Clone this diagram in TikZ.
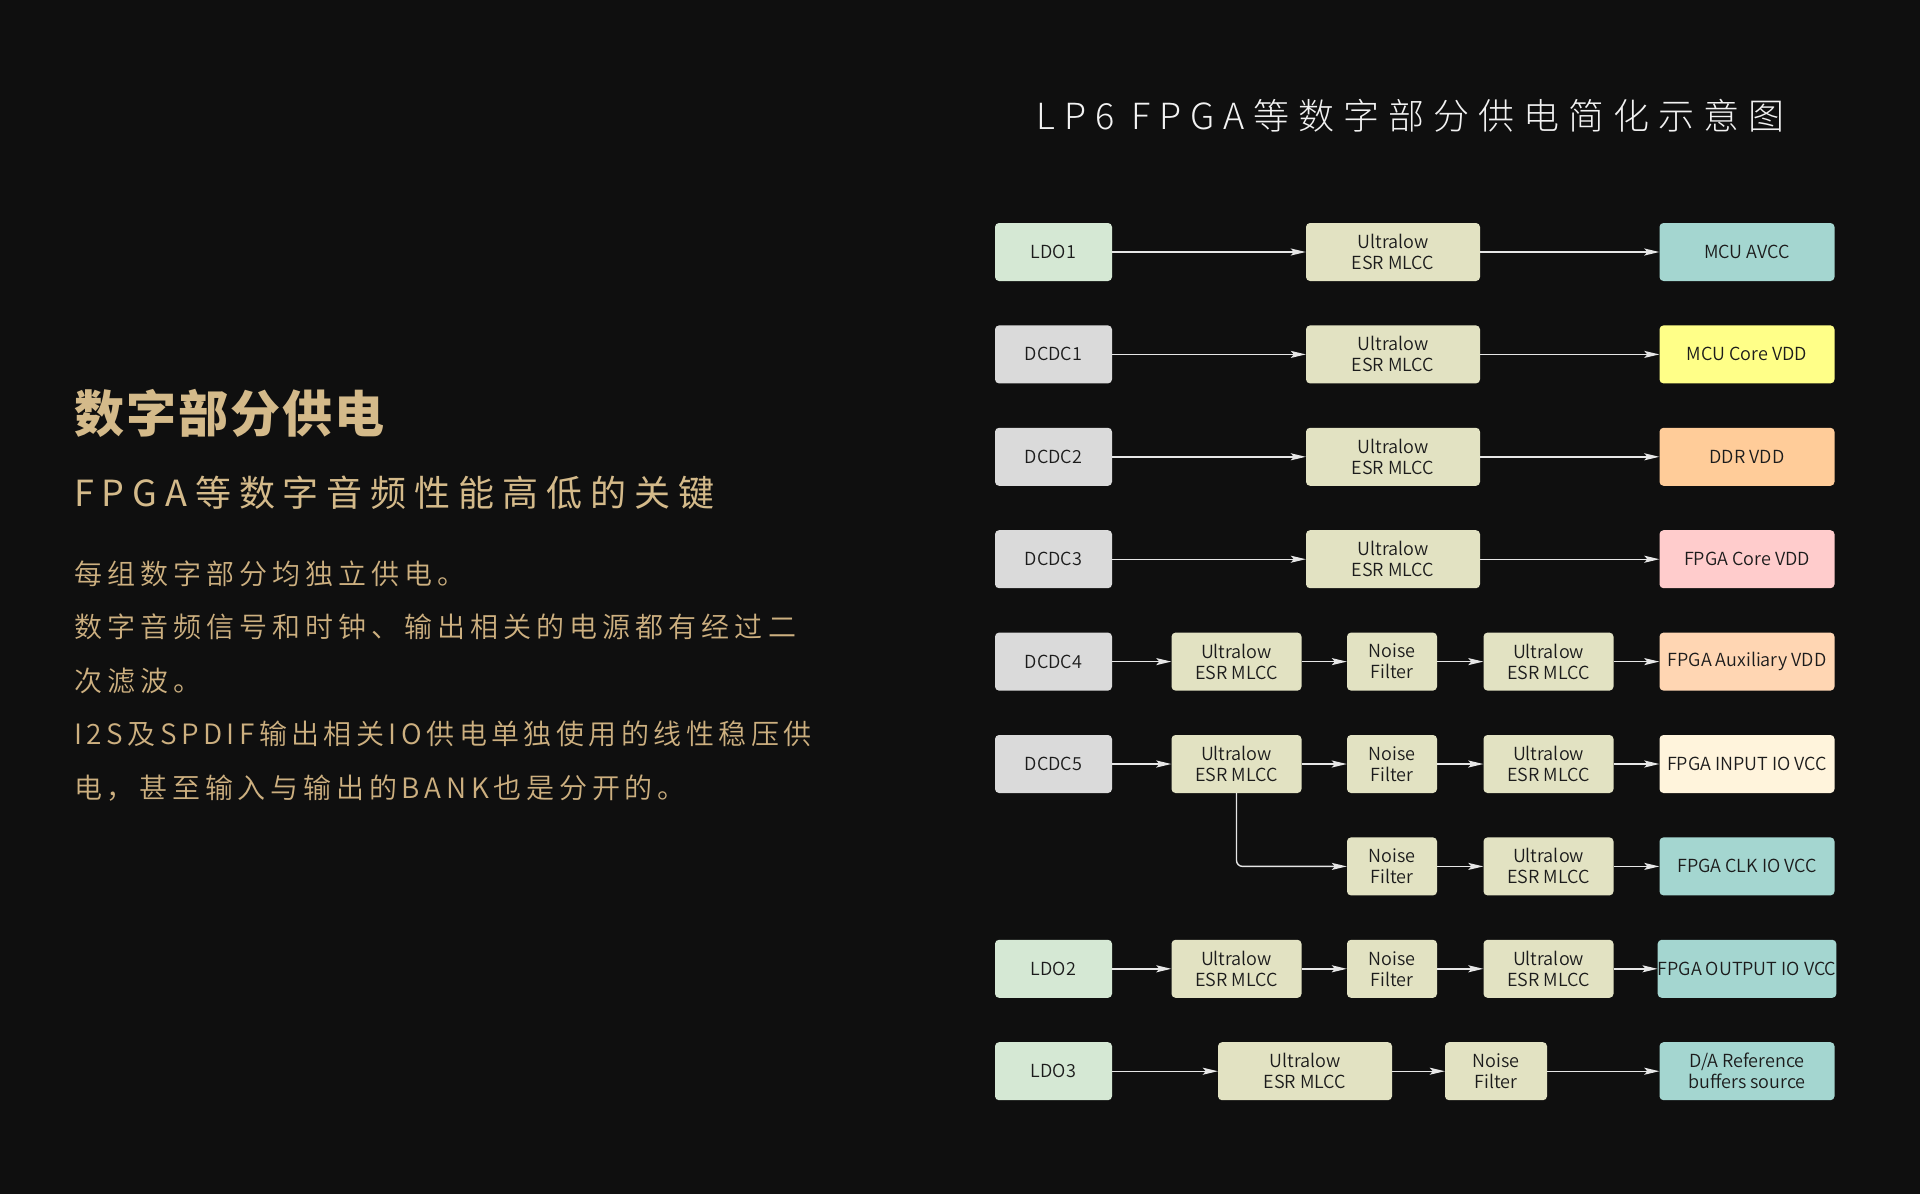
\documentclass[tikz,border=0pt]{standalone}
\usepackage{fontspec}
\setmainfont{Noto Sans CJK SC}
\newfontfamily\boxfont{Noto Sans CJK SC DemiLight}
\newfontfamily\titlefont[LetterSpace=25]{Noto Sans CJK SC Light}
\newfontfamily\subfont[LetterSpace=22]{Noto Sans CJK SC}
\newfontfamily\bodyfont[LetterSpace=18]{Noto Sans CJK SC DemiLight}
\newfontfamily\bodyfontb[LetterSpace=16]{Noto Sans CJK SC DemiLight}
\newfontfamily\bodyfontc[LetterSpace=17]{Noto Sans CJK SC DemiLight}
\newfontfamily\headfont[LetterSpace=4]{Noto Sans CJK SC}
\usetikzlibrary{arrows.meta}
\definecolor{bg}{HTML}{0F0F0F}
\definecolor{gold}{HTML}{D4BA8A}
\definecolor{bodygold}{HTML}{CDB080}
\definecolor{titlec}{HTML}{F2F2F2}
\definecolor{arrc}{HTML}{E6E6E6}
\definecolor{txt}{HTML}{1C1C1C}
\definecolor{ldo}{HTML}{D5E8D4}
\definecolor{dcdc}{HTML}{DADADA}
\definecolor{mid}{HTML}{E2E2C2}
\definecolor{teal}{HTML}{A4D6D0}
\definecolor{yel}{HTML}{FFFF88}
\definecolor{ora}{HTML}{FFCC99}
\definecolor{pnk}{HTML}{FFCCCC}
\definecolor{pch}{HTML}{FFD6B3}
\definecolor{crm}{HTML}{FFF4DC}
\begin{document}
\begin{tikzpicture}[x=1pt,y=-1pt,
  box/.style={rounded corners=4pt, minimum height=58pt, inner sep=0pt,
    align=center, text=txt, font=\boxfont\fontsize{18}{21}\selectfont},
  src/.style={box, minimum width=117pt},
  midw/.style={box, fill=mid, minimum width=174pt},
  ulc/.style={box, fill=mid, minimum width=130pt},
  nf/.style={box, fill=mid, minimum width=90pt},
  dst/.style={box, minimum width=175pt},
  arr/.style={draw=arrc, line width=1.4pt, -{Stealth[length=15pt,width=7pt,inset=3pt]}},
  lbl/.style={anchor=base west, inner sep=0pt}]
\fill[bg] (0,0) rectangle (1920,1194);
\useasboundingbox (0,0) rectangle (1920,1194);

% left text
\node[lbl, text=gold, font=\headfont\bfseries\fontsize{50}{50}\selectfont] (h1) at (74,432) {数字部分供电};
\node[lbl, text=gold, font=\subfont\fontsize{36}{36}\selectfont] (h2) at (74,506) {FPGA等数字音频性能高低的关键};
\node[lbl, text=bodygold, font=\bodyfont\fontsize{28}{28}\selectfont] (b1) at (74,584) {每组数字部分均独立供电。};
\node[lbl, text=bodygold, font=\bodyfont\fontsize{28}{28}\selectfont] (b2) at (74,637.5) {数字音频信号和时钟、输出相关的电源都有经过二};
\node[lbl, text=bodygold, font=\bodyfont\fontsize{28}{28}\selectfont] (b3) at (74,691) {次滤波。};
\node[lbl, text=bodygold, font=\bodyfontb\fontsize{28}{28}\selectfont] (b4) at (74,744.5) {I2S及SPDIF输出相关IO供电单独使用的线性稳压供};
\node[lbl, text=bodygold, font=\bodyfontc\fontsize{28}{28}\selectfont] (b5) at (74,798) {电，甚至输入与输出的BANK也是分开的。};

% title
\node[lbl, text=titlec, font=\titlefont\fontsize{36}{36}\selectfont] (tt) at (1036,129) {LP6 FPGA等数字部分供电简化示意图};

% row 1-4
\node[src, fill=ldo]  (a1) at (1053.5,252) {LDO1};
\node[midw]           (m1) at (1393,252) {Ultralow\\ESR MLCC};
\node[dst, fill=teal] (r1) at (1747,252) {MCU AVCC};

\node[src, fill=dcdc] (a2) at (1053.5,354.4) {DCDC1};
\node[midw]           (m2) at (1393,354.4) {Ultralow\\ESR MLCC};
\node[dst, fill=yel]  (r2) at (1747,354.4) {MCU Core VDD};

\node[src, fill=dcdc] (a3) at (1053.5,456.8) {DCDC2};
\node[midw]           (m3) at (1393,456.8) {Ultralow\\ESR MLCC};
\node[dst, fill=ora]  (r3) at (1747,456.8) {DDR VDD};

\node[src, fill=dcdc] (a4) at (1053.5,559.2) {DCDC3};
\node[midw]           (m4) at (1393,559.2) {Ultralow\\ESR MLCC};
\node[dst, fill=pnk]  (r4) at (1747,559.2) {FPGA Core VDD};

\foreach \i in {1,2,3,4} {
  \draw[arr] (a\i.east) -- (m\i.west);
  \draw[arr] (m\i.east) -- (r\i.west);
}

% row 5
\node[src, fill=dcdc] (a5) at (1053.5,661.6) {DCDC4};
\node[ulc]            (u5) at (1236.5,661.6) {Ultralow\\ESR MLCC};
\node[nf]             (n5) at (1392,661.6) {Noise\\Filter};
\node[ulc]            (v5) at (1548.5,661.6) {Ultralow\\ESR MLCC};
\node[dst, fill=pch]  (r5) at (1747,661.6) {FPGA Auxiliary VDD};

% row 6
\node[src, fill=dcdc] (a6) at (1053.5,764) {DCDC5};
\node[ulc]            (u6) at (1236.5,764) {Ultralow\\ESR MLCC};
\node[nf]             (n6) at (1392,764) {Noise\\Filter};
\node[ulc]            (v6) at (1548.5,764) {Ultralow\\ESR MLCC};
\node[dst, fill=crm]  (r6) at (1747,764) {FPGA INPUT IO VCC};

% row 7
\node[nf]             (n7) at (1392,866.4) {Noise\\Filter};
\node[ulc]            (v7) at (1548.5,866.4) {Ultralow\\ESR MLCC};
\node[dst, fill=teal] (r7) at (1747,866.4) {FPGA CLK IO VCC};

% row 8
\node[src, fill=ldo]  (a8) at (1053.5,968.8) {LDO2};
\node[ulc]            (u8) at (1236.5,968.8) {Ultralow\\ESR MLCC};
\node[nf]             (n8) at (1392,968.8) {Noise\\Filter};
\node[ulc]            (v8) at (1548.5,968.8) {Ultralow\\ESR MLCC};
\node[dst, fill=teal] (r8) at (1747,968.8) {FPGA OUTPUT IO VCC};

\foreach \i in {5,6,8} {
  \draw[arr] (a\i.east) -- (u\i.west);
  \draw[arr] (u\i.east) -- (n\i.west);
  \draw[arr] (n\i.east) -- (v\i.west);
  \draw[arr] (v\i.east) -- (r\i.west);
}
\draw[arr, rounded corners=6pt] (u6.south) |- (n7.west);
\draw[arr] (n7.east) -- (v7.west);
\draw[arr] (v7.east) -- (r7.west);

% row 9
\node[src, fill=ldo]  (a9) at (1053.5,1071.2) {LDO3};
\node[midw]           (u9) at (1305,1071.2) {Ultralow\\ESR MLCC};
\node[box, fill=mid, minimum width=102pt] (n9) at (1496,1071.2) {Noise\\Filter};
\node[dst, fill=teal] (r9) at (1747,1071.2) {D/A Reference\\buffers source};
\draw[arr] (a9.east) -- (u9.west);
\draw[arr] (u9.east) -- (n9.west);
\draw[arr] (n9.east) -- (r9.west);
\end{tikzpicture}
\end{document}
